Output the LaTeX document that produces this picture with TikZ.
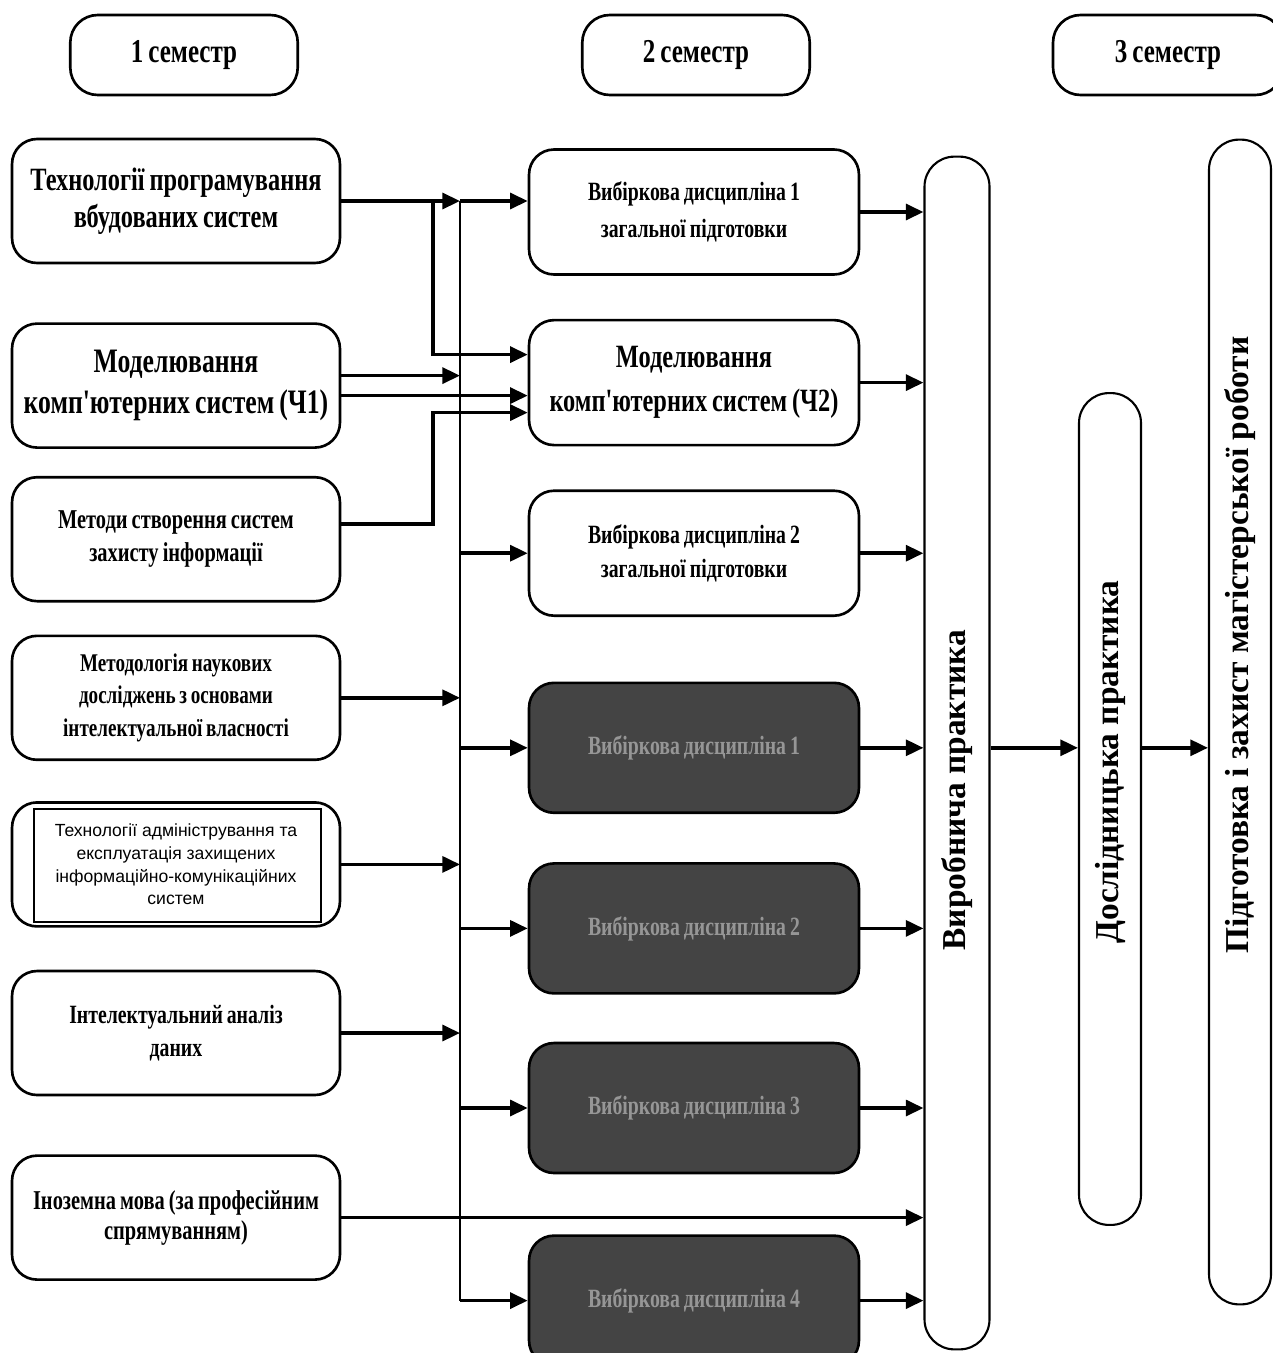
\documentclass[tikz,border=0pt]{standalone}
\usepackage{fontspec}
\setmainfont{Liberation Serif}
\newfontfamily\narrowfont{Liberation Serif}[FakeStretch=0.75, WordSpace=0.8]
\newfontfamily\plainsans{Liberation Sans}
\usetikzlibrary{arrows.meta, positioning}
\definecolor{boxdark}{RGB}{68,68,68}
\definecolor{boxtext}{RGB}{150,150,150}

\begin{document}
\begin{tikzpicture}[x=0.02cm, y=-0.02cm, node distance=0.86cm,
    semester/.style={rectangle, rounded corners=0.55cm, draw, line width=1.5pt,
                     minimum width=4.55cm, minimum height=1.6cm, font=\narrowfont\fontsize{19}{22}\selectfont\bfseries},
    course/.style={rectangle, rounded corners=0.5cm, draw, line width=1.5pt, fill=white,
                   minimum width=6.56cm, minimum height=2.48cm, text width=6.15cm, align=flush center,
                   font=\narrowfont\fontsize{15}{19}\selectfont\bfseries},
    elective/.style={course, minimum width=6.6cm, minimum height=2.5cm},
    darkbox/.style={elective, fill=boxdark, text=boxtext, minimum height=2.6cm},
    stage/.style={rectangle, rounded corners=0.6cm, draw, line width=1.2pt,
                  minimum width=1.24cm, font=\fontsize{19}{22}\selectfont\bfseries},
    arrow/.style={-{Triangle[length=10pt,width=9pt]}, line width=2pt},
    busline/.style={line width=1pt}]

    \useasboundingbox (0,0) rectangle (1273,1353);

    % semesters
    \node[semester] (sem1) at (184,55) {1 семестр};
    \node[semester] (sem2) at (696,55) {2 семестр};
    \node[semester, minimum width=4.6cm] (sem3) at (1168,55) {3 семестр};

    % first semester courses
    \node[course, font=\narrowfont\fontsize{18.5}{21}\selectfont\bfseries] (tech) at (176,201)
        {Технології програмування\\вбудованих систем};
    \node[course, below=1.16cm of tech, font=\narrowfont\fontsize{19.5}{23}\selectfont\bfseries] (model1)
        {Моделювання\\комп'ютерних систем (Ч1)};
    \node[course, below=0.54cm of model1, font=\narrowfont\fontsize{15.5}{19}\selectfont\bfseries] (methods)
        {Методи створення систем\\захисту інформації};
    \node[course, below=0.64cm of methods, font=\narrowfont\fontsize{14.5}{18.5}\selectfont\bfseries] (method)
        {Методологія наукових\\досліджень з основами\\інтелектуальної власності};
    \node[course, below=0.8cm of method, font=\plainsans\fontsize{10}{13}\selectfont] (admin)
        {Технології адміністрування та\\експлуатація захищених\\інформаційно-комунікаційних\\систем};
    \node[course, below=0.84cm of admin] (analysis)
        {Інтелектуальний аналіз\\даних};
    \node[course, below=1.16cm of analysis, font=\narrowfont\fontsize{15.5}{17}\selectfont\bfseries] (lang)
        {Іноземна мова (за професійним\\спрямуванням)};
    \draw[line width=1.2pt] ([xshift=0.46cm,yshift=-0.16cm]admin.north west)
        rectangle ([xshift=-0.4cm,yshift=0.12cm]admin.south east);

    % second semester courses
    \node[elective, font=\narrowfont\fontsize{15}{21}\selectfont\bfseries] (gen1) at (694,212)
        {Вибіркова дисципліна 1\\загальної підготовки};
    \node[elective, below=0.86cm of gen1, font=\narrowfont\fontsize{18.5}{25}\selectfont\bfseries] (model2)
        {Моделювання\\комп'ютерних систем (Ч2)};
    \node[elective, below=0.86cm of model2, font=\narrowfont\fontsize{15}{19}\selectfont\bfseries] (gen2)
        {Вибіркова дисципліна 2\\загальної підготовки};
    \node[darkbox, below=1.29cm of gen2] (elect1) {Вибіркова дисципліна 1};
    \node[darkbox, below=0.96cm of elect1] (elect2) {Вибіркова дисципліна 2};
    \node[darkbox, below=0.94cm of elect2] (elect3) {Вибіркова дисципліна 3};
    \node[darkbox, below=1.2cm of elect3] (elect4) {Вибіркова дисципліна 4};

    % practices and thesis
    \node[stage, minimum width=1.3cm, minimum height=23.86cm] (practice) at (957,753)
        {\rotatebox{90}{Виробнича практика\hspace{1.48cm}}};
    \node[stage, minimum height=16.64cm] (research) at (1110,809)
        {\rotatebox{90}{\hspace{1.88cm}Дослідницька практика}};
    \node[stage, minimum height=23.3cm] (thesis) at (1240,722)
        {\rotatebox{90}{\hspace{3.08cm}Підготовка і захист магістерської роботи}};

    \coordinate (bus) at (460,0);
    \coordinate (jog) at (433,0);
    \coordinate (m1hi) at ([yshift=0.2cm]model1.east);
    \coordinate (m1lo) at ([yshift=-0.2cm]model1.east);
    \coordinate (metout) at ([yshift=0.3cm]methods.east);
    \coordinate (m2a) at ([yshift=0.56cm]model2.west);
    \coordinate (m2b) at ([yshift=-0.6cm]model2.west);

    % bus
    \draw[busline] (tech.east -| bus) -- (elect4.west -| bus);

    % left column into the bus
    \draw[arrow] (tech.east) -- (tech.east -| bus);
    \draw[arrow] (tech.east -| bus) -- (tech.east -| gen1.west);
    \draw[arrow] (tech.east -| jog) |- (m2a);
    \draw[arrow] (m1hi) -- (m1hi -| bus);
    \draw[arrow] (m1lo) -- (m1lo -| model2.west);
    \draw[arrow] (metout) -| (m2b -| jog) -- (m2b);
    \draw[arrow] (method.east) -- (method.east -| bus);
    \draw[arrow] (admin.east) -- (admin.east -| bus);
    \draw[arrow] (analysis.east) -- (analysis.east -| bus);
    \draw[arrow] (lang.east) -- (lang.east -| practice.west);

    % bus into the electives
    \foreach \n in {gen2, elect1, elect2, elect3, elect4}
        \draw[arrow] (\n.west -| bus) -- (\n.west);

    % second semester into practice
    \foreach \n in {gen1, model2, gen2, elect1, elect2, elect3, elect4}
        \draw[arrow] (\n.east) -- (\n.east -| practice.west);

    \draw[arrow] (elect1.east -| practice.east) -- (elect1.east -| research.west);
    \draw[arrow] (elect1.east -| research.east) -- (elect1.east -| thesis.west);
\end{tikzpicture}
\end{document}
